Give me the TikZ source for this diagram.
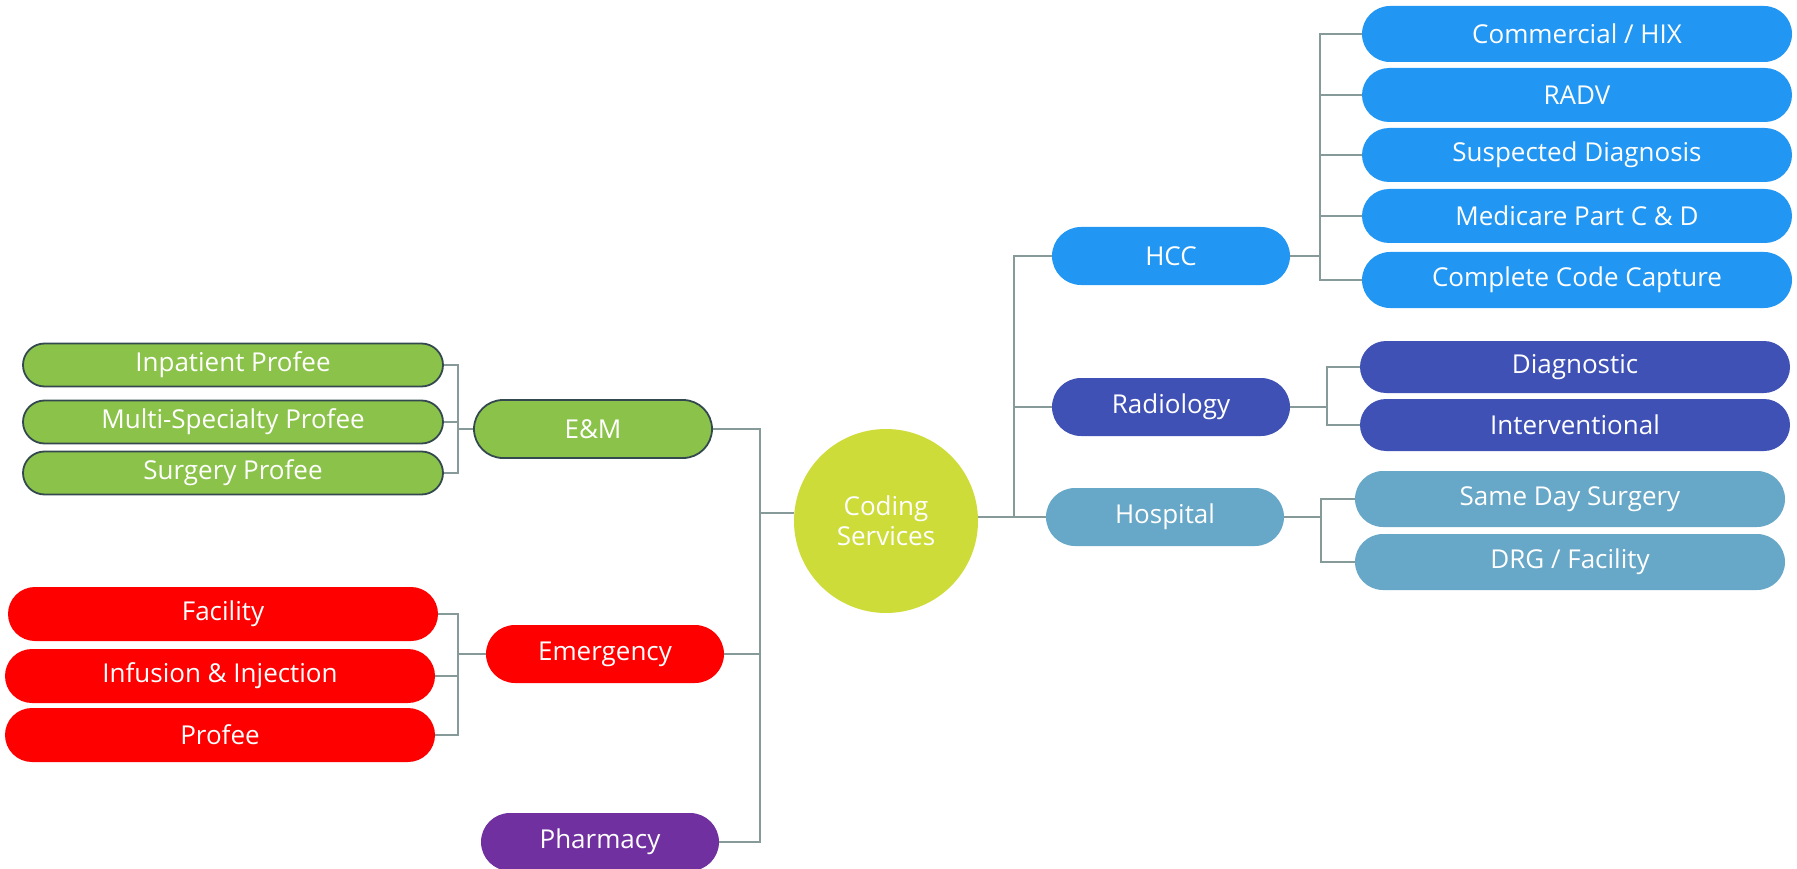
\documentclass[tikz,border=0pt]{standalone}
\usepackage{fontspec}
\setmainfont{Open Sans}
\usetikzlibrary{shapes.misc}
\definecolor{emgreen}{HTML}{8BC34A}
\definecolor{emedge}{HTML}{34494F}
\definecolor{emred}{HTML}{FF0000}
\definecolor{phpurple}{HTML}{7030A0}
\definecolor{cslime}{HTML}{CDDC39}
\definecolor{hccblue}{HTML}{2196F3}
\definecolor{radblue}{HTML}{3F51B5}
\definecolor{hosblue}{HTML}{67A7C7}
\definecolor{linkgray}{HTML}{869A9A}
\begin{document}
\begin{tikzpicture}[x=1pt,y=-1pt,
	every node/.style={text=white,font=\fontsize{26}{30}\selectfont,inner sep=0pt},
	pill/.style={rounded rectangle,minimum width=#1},
	branch/.style={pill=238pt,minimum height=58pt},
	leaf/.style={pill=430pt,minimum height=54pt},
	link/.style={draw=linkgray,line width=1.4pt}]
\useasboundingbox (0,0) rectangle (1797,869);
% junctions
\coordinate (lj) at (760,513);
\coordinate (emj) at (458,429);
\coordinate (egj) at (458,654);
\coordinate (rj) at (1014,517);
\coordinate (hj) at (1320,256);
\coordinate (rdj) at (1327,407);
\coordinate (hoj) at (1321,517);

\node[circle,fill=cslime,minimum size=184pt,align=center] (cs) at (886,521) {Coding\\Services};

\node[pill=420pt,minimum height=43pt,fill=emgreen,draw=emedge,line width=1.8pt] (inp) at (233,365) {Inpatient Profee};
\node[pill=420pt,minimum height=43pt,fill=emgreen,draw=emedge,line width=1.8pt] (msp) at (233,422) {Multi-Specialty Profee};
\node[pill=420pt,minimum height=43pt,fill=emgreen,draw=emedge,line width=1.8pt] (sur) at (233,473) {Surgery Profee};
\node[branch,fill=emgreen,draw=emedge,line width=1.8pt] (em) at (593,429) {E\&M};

\node[leaf,fill=emred] (fac) at (223,614) {Facility};
\node[leaf,fill=emred] (inf) at (220,676) {Infusion \& Injection};
\node[leaf,fill=emred] (pro) at (220,735) {Profee};
\node[branch,fill=emred] (emg) at (605,654) {Emergency};

\node[branch,fill=phpurple] (pha) at (600,842) {Pharmacy};

\node[branch,fill=hccblue] (hcc) at (1171,256) {HCC};
\node[leaf,minimum height=56pt,fill=hccblue] (com) at (1577,34) {Commercial / HIX};
\node[leaf,fill=hccblue] (rad) at (1577,95) {RADV};
\node[leaf,fill=hccblue] (sus) at (1577,155) {Suspected Diagnosis};
\node[leaf,fill=hccblue] (med) at (1577,216) {Medicare Part C \& D};
\node[leaf,minimum height=56pt,fill=hccblue] (ccc) at (1577,280) {Complete Code Capture};

\node[branch,fill=radblue] (rdl) at (1171,407) {Radiology};
\node[leaf,minimum height=52pt,fill=radblue] (dia) at (1575,367) {Diagnostic};
\node[leaf,minimum height=52pt,fill=radblue] (int) at (1575,425) {Interventional};

\node[branch,fill=hosblue] (hos) at (1165,517) {Hospital};
\node[leaf,minimum height=56pt,fill=hosblue] (sds) at (1570,499) {Same Day Surgery};
\node[leaf,minimum height=56pt,fill=hosblue] (drg) at (1570,562) {DRG / Facility};

% connectors
\draw[link] (lj) -- (lj -| cs.west);
\foreach \n in {em,emg,pha} \draw[link] (\n.east) -| (lj);
\foreach \n in {inp,msp,sur} \draw[link] (\n.east) -| (emj) -- (em.west);
\foreach \n in {fac,inf,pro} \draw[link] (\n.east) -| (egj) -- (emg.west);
\draw[link] (rj -| cs.east) -- (rj);
\foreach \n in {hcc,rdl,hos} \draw[link] (rj) |- (\n.west);
\foreach \n in {com,rad,sus,med,ccc} \draw[link] (hcc.east) -- (hj) |- (\n.west);
\foreach \n in {dia,int} \draw[link] (rdl.east) -- (rdj) |- (\n.west);
\foreach \n in {sds,drg} \draw[link] (hos.east) -- (hoj) |- (\n.west);
\end{tikzpicture}
\end{document}
